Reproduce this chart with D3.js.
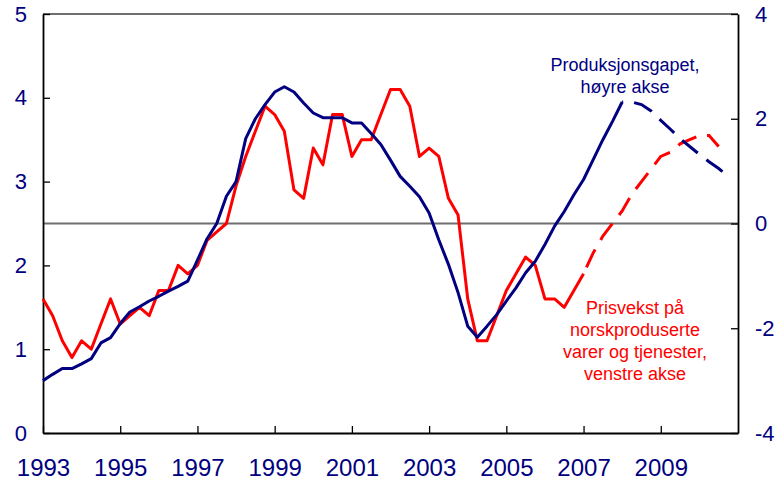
<!DOCTYPE html>
<html>
<head>
<meta charset="utf-8">
<script src="https://cdn.jsdelivr.net/npm/d3@7"></script>
<style>
  body { margin: 0; background: #fff; }
  svg { font-family: "Liberation Sans", Arial, sans-serif; }
</style>
</head>
<body>
<svg id="vis" width="780" height="484"></svg>
<script>
// quarterly series, first point = 1993 Q1
const START_YEAR = 1993;

// Prisvekst på norskproduserte varer og tjenester (left axis)
const prisvekst = [
    1.6, 1.4, 1.1, 0.9, 1.1, 1.0, 1.3, 1.6, 1.3, 1.4, 1.5, 1.4, 1.7, 1.7, 2.0, 1.9, 2.0, 2.3, 2.4, 2.5,
    2.95, 3.3, 3.6, 3.9, 3.8, 3.6, 2.9, 2.8, 3.4, 3.2, 3.8, 3.8, 3.3, 3.5, 3.5, 3.8, 4.1, 4.1, 3.9, 3.3,
    3.4, 3.3, 2.8, 2.6, 1.6, 1.1, 1.1, 1.4, 1.7, 1.9, 2.1, 2.0, 1.6, 1.6, 1.5, 1.7, 1.9,
    2.15, 2.35, 2.5, 2.65, 2.85, 3.0, 3.15, 3.3, 3.35, 3.45, 3.5, 3.55, 3.55, 3.42
];
const prisvekstLastActual = 56; // dashed (projection) after this index

// Produksjonsgapet (right axis)
const gapet = [
    -3.0, -2.88, -2.77, -2.77, -2.68, -2.58, -2.28, -2.18, -1.91, -1.69, -1.59, -1.48, -1.39, -1.29, -1.2, -1.1, -0.7, -0.29, 0.0, 0.52,
    0.8, 1.62, 2.0, 2.27, 2.51, 2.61, 2.51, 2.3, 2.11, 2.02, 2.02, 2.02, 1.92, 1.92, 1.72, 1.51, 1.21, 0.9, 0.71, 0.51,
    0.2, -0.31, -0.78, -1.32, -1.96, -2.17, -1.96, -1.74, -1.48, -1.23, -0.94, -0.72, -0.4, -0.05, 0.23, 0.55, 0.84, 1.22, 1.6, 1.95, 2.32,
    2.32, 2.27, 2.15, 1.97, 1.8, 1.62, 1.47, 1.32, 1.18, 1.05, 0.9
];
const gapetLastActual = 60;

const xTicks = [1993, 1995, 1997, 1999, 2001, 2003, 2005, 2007, 2009];
const leftTicks = [0, 1, 2, 3, 4, 5];
const rightTicks = [-4, -2, 0, 2, 4];

const RED = "#ff0000";
const NAVY = "#000080";

const svg = d3.select("#vis");
const margin = {left: 43, right: 42, top: 14, bottom: 51};
const W = 780, H = 484;

const xscale = d3.scaleLinear().domain([1993, 2011]).range([margin.left, W - margin.right]);
const yLeft = d3.scaleLinear().domain([0, 5]).range([H - margin.bottom, margin.top]);
const yRight = d3.scaleLinear().domain([-4, 4]).range([H - margin.bottom, margin.top]);

function toPoints(arr) {
    return arr.map((v, i) => ({t: START_YEAR + i / 4, v: v}));
}

function main() {
    drawGrid();
    drawAxes();
    drawSeries(toPoints(prisvekst), prisvekstLastActual, yLeft, RED, 24);
    drawSeries(toPoints(gapet), gapetLastActual, yRight, NAVY, 19);
    drawLabels();
}

function drawGrid() {
    // top line and the zero line of the right axis
    svg.selectAll(".grid").data([4, 0]).join("line")
        .attr("class", "grid")
        .attr("x1", xscale(1993))
        .attr("x2", xscale(2011))
        .attr("y1", d => yRight(d))
        .attr("y2", d => yRight(d))
        .attr("stroke", "#6e6e6e")
        .attr("stroke-width", 1.8);
}

function styleAxis(g, size) {
    g.select(".domain").attr("stroke", "#000").attr("stroke-width", 1.8);
    g.selectAll(".tick line").attr("stroke", "#000").attr("stroke-width", 1.3);
    g.selectAll(".tick text")
        .attr("fill", NAVY)
        .style("font-size", size + "px");
}

function drawAxes() {
    const gl = svg.append("g")
        .attr("transform", `translate(${margin.left},0)`)
        .call(d3.axisLeft(yLeft).tickValues(leftTicks).tickFormat(d3.format("d"))
            .tickSizeInner(-7).tickSizeOuter(0).tickPadding(16));
    styleAxis(gl, 22);

    const gr = svg.append("g")
        .attr("transform", `translate(${W - margin.right},0)`)
        .call(d3.axisRight(yRight).tickValues(rightTicks).tickFormat(d3.format("d"))
            .tickSizeInner(-7).tickSizeOuter(0).tickPadding(17));
    styleAxis(gr, 22);
    gr.selectAll(".tick text").text(d => d < 0 ? "-" + Math.abs(d) : d);

    const gb = svg.append("g")
        .attr("transform", `translate(0,${H - margin.bottom})`)
        .call(d3.axisBottom(xscale).tickValues(xTicks).tickFormat(d3.format("d"))
            .tickSizeInner(-7).tickSizeOuter(0).tickPadding(26));
    styleAxis(gb, 24);
}

function drawSeries(points, lastActual, yscale, color, dashOffset) {
    const line = d3.line().x(d => xscale(d.t)).y(d => yscale(d.v));
    const actual = points.slice(0, lastActual + 1);
    const forecast = points.slice(lastActual);

    svg.append("path")
        .datum(actual)
        .attr("fill", "none")
        .attr("stroke", color)
        .attr("stroke-width", 3)
        .attr("stroke-linejoin", "round")
        .attr("d", line);

    svg.append("path")
        .datum(forecast)
        .attr("fill", "none")
        .attr("stroke", color)
        .attr("stroke-width", 3)
        .attr("stroke-dasharray", "20,11")
        .attr("stroke-dashoffset", dashOffset)
        .attr("d", line);
}

function drawLabels() {
    const blueText = svg.append("text")
        .attr("fill", NAVY)
        .attr("text-anchor", "middle")
        .style("font-size", "18px");
    blueText.append("tspan").attr("x", 625).attr("y", 71).text("Produksjonsgapet,");
    blueText.append("tspan").attr("x", 625).attr("y", 93).text("høyre akse");

    const redText = svg.append("text")
        .attr("fill", RED)
        .attr("text-anchor", "middle")
        .style("font-size", "18px");
    const lines = ["Prisvekst på", "norskproduserte", "varer og tjenester,", "venstre akse"];
    lines.forEach((s, i) => {
        redText.append("tspan").attr("x", 635).attr("y", 314 + i * 22).text(s);
    });
}

main();
</script>
</body>
</html>
